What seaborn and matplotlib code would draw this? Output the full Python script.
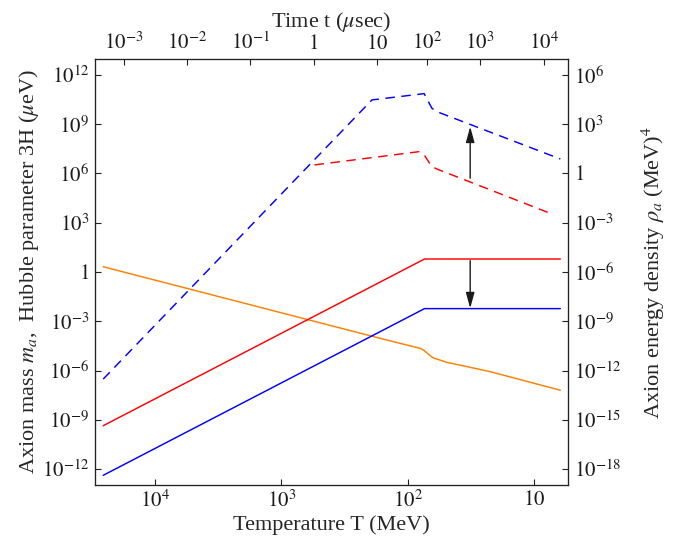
import numpy as np
import matplotlib
matplotlib.use("Agg")
import matplotlib.pyplot as plt
import seaborn as sns

# Setup
sns.set_theme(style="ticks")
plt.rcParams['font.family'] = ['Liberation Serif', 'DejaVu Serif']
plt.rcParams['mathtext.fontset'] = 'stix'

# ============================================================
# Values (all as log10 exponents)
# T in MeV, masses / 3H in micro-eV, energy density in MeV^4
# ============================================================
hubble_logT = [4.408, 2.218, 1.901, 1.870, 1.830, 1.796, 1.690, 1.347, 0.793]
hubble_log = [0.32, -4.04, -4.65, -4.78, -5.05, -5.24, -5.50, -6.07, -7.20]

mass_logT = [4.408, 1.867, 0.793]
mass_red_log = [-9.36, 0.79, 0.79]
mass_blue_log = [-12.38, -2.23, -2.23]

rho_blue_logT = [4.408, 2.283, 1.870, 1.809, 1.769, 0.793]
rho_blue_log = [-12.52, 4.475, 4.86, 3.97, 3.76, 0.88]
rho_red_logT = [2.737, 1.907, 1.870, 1.809, 1.769, 0.859]
rho_red_log = [0.52, 1.33, 1.13, 0.41, 0.27, -2.47]

# arrows: (log T, from, to)
arrow_logT = 1.506
arrow_up = (-0.29, 2.85)      # right axis
arrow_down = (0.69, -2.21)    # left axis

# top axis: time in microseconds, placed at these temperatures
time_tick_logT = [4.243, 3.744, 3.244, 2.745, 2.244, 1.848, 1.432, 0.926]
time_labels = ['$10^{-3}$', '$10^{-2}$', '$10^{-1}$', '$1$', '$10$',
               '$10^{2}$', '$10^{3}$', '$10^{4}$']

temp_ticks = [1e4, 1e3, 1e2, 10]
temp_labels = ['$10^{4}$', '$10^{3}$', '$10^{2}$', '$10$']

left_exps = list(range(-12, 13, 3))
right_exps = list(range(-18, 7, 3))


def exp_label(e):
    if e == 0:
        return '$1$'
    return '$10^{%d}$' % e


xlim = (10 ** 4.475, 10 ** 0.730)
ylim_left = (10 ** -12.97, 10 ** 12.95)
ylim_right = (ylim_left[0] * 1e-6, ylim_left[1] * 1e-6)

fig = plt.figure(figsize=(6.83, 5.46), dpi=100)
ax = fig.add_axes([0.1387, 0.1117, 0.6934, 0.7797])
ax.set_xscale('log')
ax.set_yscale('log')
ax.set_xlim(*xlim)
ax.set_ylim(*ylim_left)

ax2 = ax.twinx()
ax2.set_yscale('log')
ax2.set_ylim(*ylim_right)

ax3 = ax.twiny()
ax3.set_xscale('log')
ax3.set_xlim(*xlim)

lw = 1.05
sns.lineplot(x=10 ** np.array(hubble_logT), y=10 ** np.array(hubble_log),
             ax=ax, color='#ff8000', lw=lw, sort=False)
sns.lineplot(x=10 ** np.array(mass_logT), y=10 ** np.array(mass_red_log),
             ax=ax, color='#ff0000', lw=lw, sort=False)
sns.lineplot(x=10 ** np.array(mass_logT), y=10 ** np.array(mass_blue_log),
             ax=ax, color='#0000ff', lw=lw, sort=False)
sns.lineplot(x=10 ** np.array(rho_blue_logT), y=10 ** np.array(rho_blue_log),
             ax=ax2, color='#0000ff', lw=lw, sort=False, linestyle=(0, (6.5, 4.5)))
sns.lineplot(x=10 ** np.array(rho_red_logT), y=10 ** np.array(rho_red_log),
             ax=ax2, color='#ff0000', lw=lw, sort=False, linestyle=(0, (6.5, 4.5)))

arrow_kw = dict(arrowstyle='-|>,head_length=0.95,head_width=0.26',
                color='k', lw=1.0, mutation_scale=10, shrinkA=0, shrinkB=0)
ax2.annotate('', xy=(10 ** arrow_logT, 10 ** arrow_up[1]),
             xytext=(10 ** arrow_logT, 10 ** arrow_up[0]), arrowprops=arrow_kw)
ax.annotate('', xy=(10 ** arrow_logT, 10 ** arrow_down[1]),
            xytext=(10 ** arrow_logT, 10 ** arrow_down[0]), arrowprops=arrow_kw)

# ticks
ax.set_xticks(temp_ticks)
ax.set_xticklabels(temp_labels)
ax.set_yticks([10.0 ** e for e in left_exps])
ax.set_yticklabels([exp_label(e) for e in left_exps])
ax2.set_yticks([10.0 ** e for e in right_exps])
ax2.set_yticklabels([exp_label(e) for e in right_exps])
ax3.set_xticks([10 ** v for v in time_tick_logT])
ax3.set_xticklabels(time_labels)
for a in (ax, ax2, ax3):
    a.minorticks_off()
    a.tick_params(which='major', direction='in', length=4.5, width=0.8,
                  labelsize=15, colors='#222222', labelcolor='k', pad=4)
    for s in a.spines.values():
        s.set_color('#222222')
        s.set_linewidth(0.8)

ax.set_xlabel('Temperature T (MeV)', fontsize=16)
ax.set_ylabel('Axion mass $m_a$,  Hubble parameter 3H ($\\mu$eV)', fontsize=16)
ax2.set_ylabel('Axion energy density $\\rho_a$ (MeV)$^4$', fontsize=16)
ax3.set_xlabel('Time t ($\\mu$sec)', fontsize=16)
ax.xaxis.set_label_coords(0.5, -0.071)
ax.yaxis.set_label_coords(-0.113, 0.5)
ax2.yaxis.set_label_coords(1.151, 0.5)
ax3.xaxis.set_label_coords(0.5, 1.076)

plt.savefig('out.png', dpi=100)
plt.close()
